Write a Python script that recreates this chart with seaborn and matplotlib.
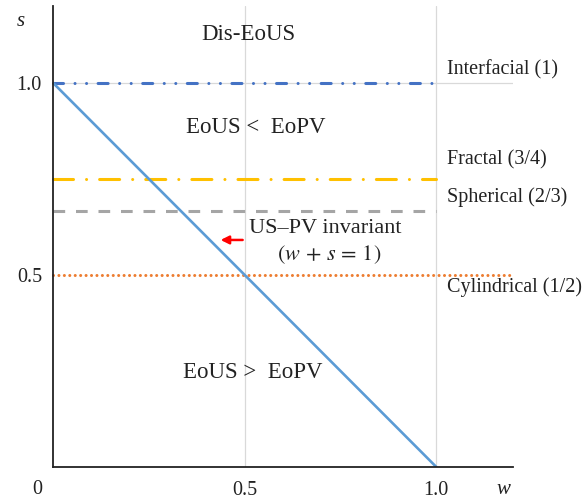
import matplotlib
matplotlib.use("Agg")
import matplotlib.pyplot as plt
import numpy as np
import seaborn as sns

# invariant line w + s = 1
inv_w = [0.0, 1.0]
inv_s = [1.0, 0.0]

# shape-factor reference lines
shape_names = ["Interfacial (1)", "Fractal (3/4)", "Spherical (2/3)", "Cylindrical (1/2)"]
shape_s = [1.0, 0.75, 2 / 3, 0.5]
shape_w_end = [1.0, 1.0, 1.0, 1.2]
shape_colors = ["#4472C4", "#FFC000", "#A5A5A5", "#ED7D31"]
shape_dashes = [(7.2, 8.3, 0.01, 8.3, 0.01, 8.3), (14.4, 9.4, 0.01, 9.4), (8.4, 7.8), (0.01, 3.9)]
shape_caps = ["round", "round", "butt", "round"]
shape_label_y = [1.034, 0.80, 0.703, 0.469]

region_labels = ["Dis-EoUS", "EoUS <  EoPV", "EoUS >  EoPV"]
region_xy = [(0.51, 1.125), (0.529, 0.883), (0.521, 0.245)]

sns.set_theme(style="white")
plt.rcParams["font.family"] = ["Liberation Serif", "DejaVu Serif"]
plt.rcParams["mathtext.fontset"] = "stix"
plt.rcParams["lines.scale_dashes"] = False

fig = plt.figure(figsize=(5.87, 5.04), dpi=100)
ax = fig.add_axes([53 / 587, 37 / 504, 460 / 587, 461 / 504])
ax.set_xlim(0, 1.2)
ax.set_ylim(0, 1.2)

# light grid
for g in [0.5, 1.0]:
    ax.axvline(g, color="#D9D9D9", lw=0.9, zorder=0)
ax.axhline(1.0, color="#D9D9D9", lw=0.9, zorder=0)

for s, wend, col, dsh, cap in zip(shape_s, shape_w_end, shape_colors, shape_dashes, shape_caps):
    sns.lineplot(x=[0, wend], y=[s, s], ax=ax, color=col, lw=2.2)
    ln = ax.lines[-1]
    ln.set_dashes(dsh)
    ln.set_clip_on(False)
    ln.set_dash_capstyle(cap)

sns.lineplot(x=inv_w, y=inv_s, ax=ax, color="#5B9BD5", lw=1.9)

for name, ly in zip(shape_names, shape_label_y):
    ax.text(1.027, ly, name, fontsize=14.5, ha="left", va="center", color="#222222")

for lab, (x, y) in zip(region_labels, region_xy):
    ax.text(x, y, lab, fontsize=16.5, ha="center", va="center", color="#222222")

ax.text(0.71, 0.622, "US–PV invariant", fontsize=16, ha="center", va="center", color="#222222")
ax.text(0.72, 0.552, r"$(w\,+\,s\,=\,1)$", fontsize=16, ha="center", va="center", color="#222222")
ax.annotate("", xy=(0.43, 0.591), xytext=(0.502, 0.591),
            arrowprops=dict(arrowstyle="-|>", color="red", lw=1.8, mutation_scale=12))

# axes styling
for sp in ["top", "right"]:
    ax.spines[sp].set_visible(False)
for sp in ["left", "bottom"]:
    ax.spines[sp].set_color("#222222")
    ax.spines[sp].set_linewidth(1.3)
ax.set_xticks([0.5, 1.0])
ax.set_xticklabels(["0.5", "1.0"])
ax.set_yticks([0.5, 1.0])
ax.set_yticklabels(["0.5", "1.0"])
ax.tick_params(axis="both", direction="in", length=9, width=1.3, color="#222222",
               labelsize=14.5, labelcolor="#222222")
ax.tick_params(axis="x", pad=10)
ax.tick_params(axis="y", pad=8)
ax.text(-0.042, -0.058, "0", fontsize=14.5, ha="center", va="center", color="#222222")
ax.text(1.175, -0.058, "w", fontsize=15, style="italic", ha="center", va="center", color="#222222")
ax.text(-0.085, 1.16, "s", fontsize=15, style="italic", ha="center", va="center", color="#222222")

fig.savefig("out.png", dpi=100)
